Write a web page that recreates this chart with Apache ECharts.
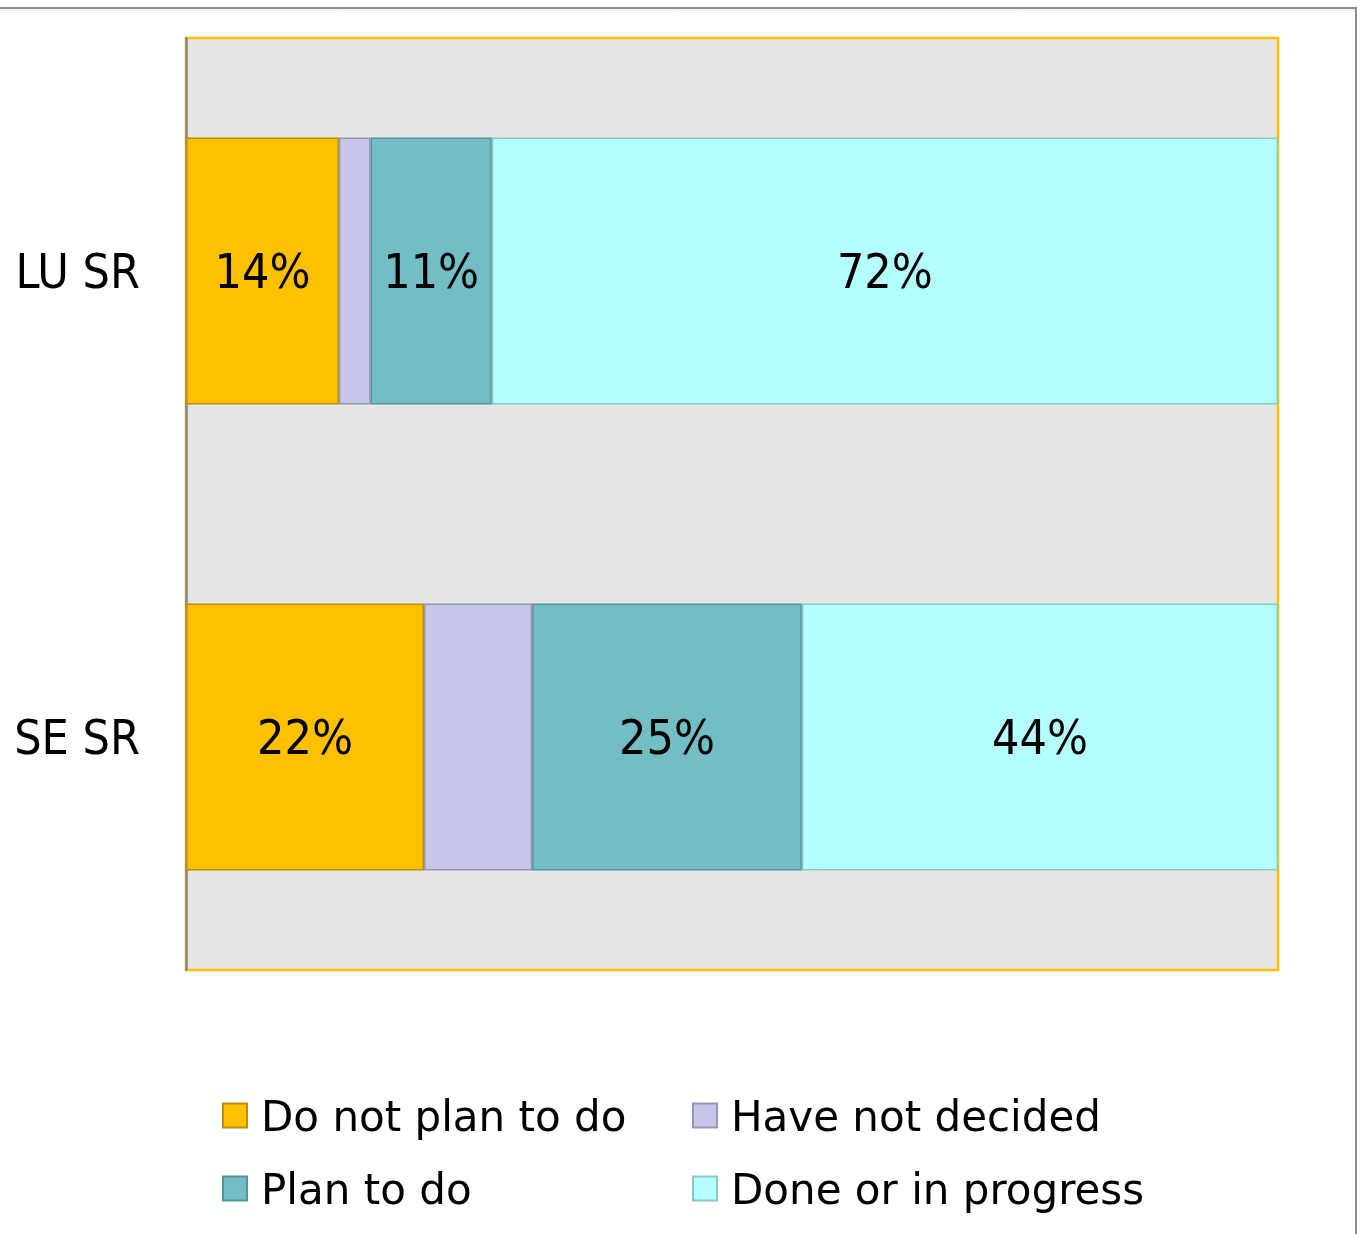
<!DOCTYPE html>
<html>
<head>
<meta charset="utf-8">
<script src="https://cdn.jsdelivr.net/npm/echarts@6/dist/echarts.min.js"></script>
<style>
  html, body { margin: 0; padding: 0; background: #ffffff; }
  #chart { width: 1361px; height: 1234px; }
</style>
</head>
<body>
<div id="chart"></div>
<script>
// Survey groups (top to bottom)
const categories = ['LU SR', 'SE SR'];

// Share of respondents per answer, in percent
const doNotPlan   = [14.0, 21.8];
const notDecided  = [2.9, 9.9];
const planToDo    = [11.1, 24.7];
const doneOrInProg = [72.0, 43.6];

const seriesNames = ['Do not plan to do', 'Have not decided', 'Plan to do', 'Done or in progress'];

const labelFont = '"DejaVu Sans Condensed", "DejaVu Sans", sans-serif';
const legendFont = '"DejaVu Sans", sans-serif';

function makeSeries(name, data, fill, border, showLabel) {
  return {
    name: name,
    type: 'bar',
    stack: 'total',
    data: data,
    barCategoryGap: '42.7%',
    itemStyle: { color: fill, borderColor: border, borderWidth: 1.5 },
    label: {
      show: showLabel,
      position: 'inside',
      offset: [0, 5],
      color: '#000000',
      fontFamily: labelFont,
      fontSize: 48,
      formatter: p => Math.round(p.value) + '%'
    },
    emphasis: { disabled: true }
  };
}

const chart = echarts.init(document.getElementById('chart'), null, { renderer: 'canvas' });

const legendText = {
  color: '#000000',
  rich: {
    t: {
      fontFamily: legendFont,
      fontSize: 42,
      color: '#000000',
      lineHeight: 48,
      padding: [9, 0, 0, 9]
    }
  }
};
const legendFormatter = name => '{t|' + name + '}';

chart.setOption({
  animation: false,
  backgroundColor: '#ffffff',
  graphic: [
    {
      type: 'rect',
      shape: { x: -20, y: 8, width: 1376, height: 1300 },
      style: { fill: 'none', stroke: '#8c8c8c', lineWidth: 2 },
      z: -10
    },
    {
      type: 'line',
      shape: { x1: 0, y1: 10, x2: 1355, y2: 10 },
      style: { stroke: '#e2e2e2', lineWidth: 1 },
      z: -10
    }
  ],
  grid: {
    left: 186, right: 83, top: 38, bottom: 264,
    show: true,
    backgroundColor: '#e6e6e6',
    borderColor: '#ffc000',
    borderWidth: 2.5
  },
  xAxis: {
    type: 'value',
    min: 0,
    max: 100,
    show: false
  },
  yAxis: {
    type: 'category',
    data: categories,
    inverse: true,
    axisLine: { show: true, lineStyle: { color: '#8a867e', width: 2.5 } },
    axisTick: { show: false },
    axisLabel: {
      margin: 46,
      color: '#000000',
      fontFamily: labelFont,
      fontSize: 48,
      verticalAlign: 'top',
      lineHeight: 10
    }
  },
  legend: [
    {
      orient: 'vertical',
      left: 222,
      top: 1090,
      padding: 0,
      itemWidth: 24,
      itemHeight: 24,
      itemGap: 22,
      icon: 'rect',
      data: [seriesNames[0], seriesNames[2]],
      formatter: legendFormatter,
      textStyle: legendText,
      selectedMode: false
    },
    {
      orient: 'vertical',
      left: 692,
      top: 1090,
      padding: 0,
      itemWidth: 24,
      itemHeight: 24,
      itemGap: 22,
      icon: 'rect',
      data: [seriesNames[1], seriesNames[3]],
      formatter: legendFormatter,
      textStyle: legendText,
      selectedMode: false
    }
  ],
  series: [
    makeSeries(seriesNames[0], doNotPlan, '#ffc000', '#b8900c', true),
    makeSeries(seriesNames[1], notDecided, '#c6c6ea', '#9896b6', false),
    makeSeries(seriesNames[2], planToDo, '#72bec4', '#55959a', true),
    makeSeries(seriesNames[3], doneOrInProg, '#b4ffff', '#8cc8c8', true)
  ]
});
</script>
</body>
</html>
